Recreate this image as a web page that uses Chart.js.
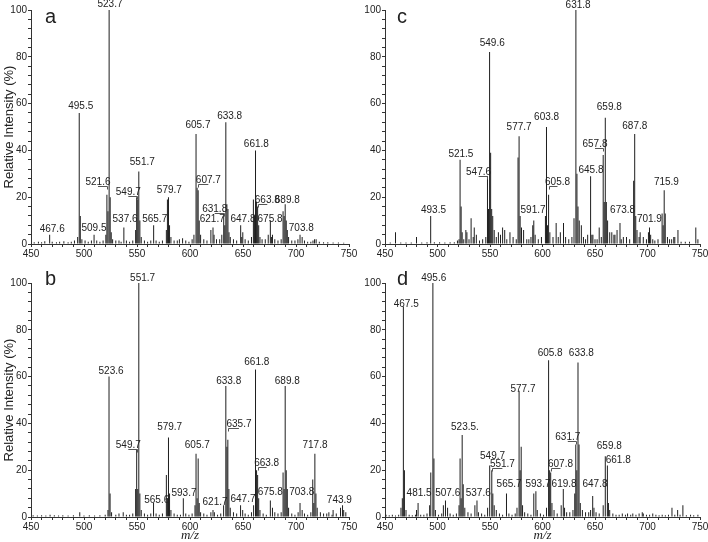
<!DOCTYPE html>
<html>
<head>
<meta charset="utf-8">
<script src="https://cdn.jsdelivr.net/npm/chart.js@4.4.1/dist/chart.umd.min.js"></script>
<style>
  body { margin: 0; background: #fff; width: 708px; height: 542px; overflow: hidden; position: relative; }
  canvas { position: absolute; }
</style>
</head>
<body>
<canvas id="chartA" width="360" height="271" style="left:0;top:0"></canvas>
<canvas id="chartC" width="354" height="271" style="left:354px;top:0"></canvas>
<canvas id="chartB" width="360" height="271" style="left:0;top:271px"></canvas>
<canvas id="chartD" width="354" height="271" style="left:354px;top:271px"></canvas>
<script>
// Peaks: [m/z, relative intensity %]
const peaksA = [[453,0.8],[457,1],[460,0.8],[463,1.2],[467.6,4],[470,1],[474,0.8],[477,1],[481,1.2],[485,0.8],[488,1],[491,1.5],[494,3],[495.5,56],[496.5,12],[498,2],[501,1.5],[504,1],[507,1.5],[509.5,4],[512,1.5],[515,1],[518,1.5],[520.6,4],[521.6,21],[522.6,14],[523.7,100],[524.7,20],[525.7,5],[527,2],[530,1.5],[533,1.5],[535,1],[537.6,7],[540,1.5],[543,1],[546,1.5],[548.7,6],[549.7,20],[550.7,19],[551.7,31],[552.7,10],[554,3],[557,1.5],[560,1],[563,1.5],[565.7,8],[568,1.5],[571,1],[574,1.5],[577.7,6],[578.7,19],[579.7,20],[580.7,8],[582,3],[585,1.5],[588,1.5],[590,2],[593,2.5],[596,1.5],[599,1],[602,2],[603.7,4],[605.7,47],[606.7,24],[607.7,23],[608.7,10],[610,4],[613,2],[616,1.5],[619.7,6],[621.7,7],[622.7,4],[625,2],[628,2],[630,4],[631.8,12],[632.8,8],[633.8,52],[634.8,17],[635.8,15],[636.8,5],[638,3],[641,2],[644,1.5],[647.8,8],[648.8,3],[649.8,5],[652,2],[655,1.5],[658,3],[659.8,19],[660.8,12],[661.8,40],[662.8,18],[663.8,16],[664.8,8],[666,3],[668,2],[671,2],[673.8,4],[675.8,10],[676.8,3],[677.8,4],[680,2],[683,1.5],[686,2],[687.8,14],[688.8,12],[689.8,17],[690.8,10],[691.8,6],[693,3],[696,1.5],[699,1.5],[701.8,2],[703.8,4],[705.8,3],[708,1.5],[711,1],[714,1],[716,1.5],[717.5,2],[719,2],[722,1],[726,0.8],[730,0.8],[735,0.6],[740,0.6],[745,0.5]];

const peaksB = [[452,0.8],[456,0.6],[460,0.8],[464,0.6],[468,1],[472,0.8],[476,0.6],[480,0.8],[485,0.6],[490,0.8],[496,2],[500,0.6],[505,0.8],[510,0.6],[515,0.8],[520,1],[522.6,3],[523.6,60],[524.6,10],[526,2],[530,1],[533,1.5],[537,2],[540,1],[543,1],[546,1.5],[548.7,12],[549.7,29],[550.7,12],[551.7,100],[552.7,10],[554,3],[557,1.5],[560,1],[563,1.5],[565.6,6],[568,1.5],[571,1],[574,1.5],[577.7,18],[578.7,8],[579.7,34],[580.7,10],[582,3],[585,1.5],[588,1],[591,1],[593.7,8],[596,1.5],[599,1],[602,1.5],[604.7,5],[605.7,27],[606.7,8],[607.7,25],[608.7,6],[610,2],[613,1.5],[616,1],[619.7,2],[621.7,3],[623,2],[626,1],[629,1.5],[631.7,5],[633.8,56],[634.8,30],[635.7,33],[636.7,12],[638,4],[641,2],[644,1.5],[647.7,5],[649.7,3],[652,1.5],[655,1],[658,2],[660,5],[661.8,63],[662.8,20],[663.8,18],[664.8,8],[666,3],[669,1.5],[672,1],[675.8,7],[677.8,4],[680,2],[683,1.5],[686,2],[687.8,19],[688.8,12],[689.8,56],[690.8,20],[691.8,12],[693,4],[696,1.5],[699,1],[702,2],[703.8,6],[705.8,3],[708,1.5],[711,1],[714,2],[715.8,16],[716.8,6],[717.8,27],[718.8,10],[720,4],[723,2],[726,1.5],[729,1.5],[731,2],[734,1],[735,3],[738,1.5],[742,4],[743.9,5],[745,3],[747,2]];

const peaksC = [[455,0.6],[460,5],[465,0.6],[470,0.6],[475,0.6],[480,3],[485,0.6],[490,0.8],[493.5,12],[497,0.8],[502,0.8],[507,0.6],[512,0.8],[516,0.8],[519,1.5],[520.5,2],[521.5,36],[522.5,16],[523.5,5],[525,2],[527,6],[528,5],[530,2],[532,11],[534,3],[535,7],[537,4],[540,1.5],[543,2],[546,3],[547.6,29],[548.6,15],[549.6,82],[550.6,39],[551.6,15],[552.6,12],[554,6],[556,3],[558,5],[560,4],[562,7],[564,6],[566,2],[569,5],[572,3],[575,2],[576.7,37],[577.7,46],[578.7,12],[580,7],[582,6],[585,2],[587,2],[589,3],[590.7,8],[591.7,10],[593,4],[596,2],[599,3],[602.8,12],[603.8,50],[604.8,8],[605.8,21],[607,5],[610,3],[613,9],[615,3],[617,5],[620,9],[622,3],[625,2],[628,3],[630,11],[631.8,100],[632.8,30],[633.8,16],[635,10],[637,8],[639,3],[641,2],[643,4],[645.8,29],[647,4],[648,4],[650,2],[652,2],[654,7],[656,3],[657.8,38],[658.8,18],[659.8,54],[660.8,18],[662,10],[664,5],[666,5],[668,4],[669,4],[671,6],[673.8,9],[675,2],[677,3],[680,3],[683,2],[686.8,27],[687.8,47],[688.8,12],[690,6],[692,3],[693,5],[696,3],[699,2],[700.9,5],[701.9,7],[703,4],[705,2],[707,1.5],[710,2],[713.9,13],[714.9,8],[715.9,23],[716.9,13],[719,3],[721,2],[723,2],[725,3],[726,3],[729,6],[732,1],[736,1],[740,1],[746,7],[748,2]];

const peaksD = [[451,1],[454,0.8],[457,1],[460,0.6],[463,1],[465.2,4],[466.5,8],[467.5,90],[468.5,20],[470,3],[473,1],[476,0.8],[479,1],[480,3],[481.5,6],[484,1],[487,1],[490,1.5],[492.5,5],[493.6,19],[495.6,100],[496.6,25],[498,3],[501,1],[504,1.5],[505.6,5],[507.6,7],[509.6,4],[512,1.5],[515,1],[518,1.5],[520.5,5],[521.5,25],[522.5,8],[523.5,35],[524.5,14],[526,4],[529,2],[532,1.5],[535.6,5],[537.6,7],[539,2],[542,1.5],[545,1],[547.7,4],[549.7,22],[551.7,20],[552.7,10],[554,5],[556,3],[559,1.5],[562,1],[565.7,10],[568,1.5],[571,1],[574,1.5],[575.7,4],[577.7,54],[578.7,20],[579.7,30],[581,5],[583,2],[586,1.5],[589,1],[591.7,10],[593.7,11],[595,3],[598,1.5],[601,1],[603.8,4],[605.8,67],[606.8,20],[607.8,19],[609,6],[611,3],[614,1.5],[617.8,5],[619.8,12],[621,4],[623,2],[626,2],[629,3],[630.7,10],[631.7,31],[632.7,20],[633.8,66],[634.8,31],[636,6],[638,3],[641,2],[644,2],[645.8,3],[647.8,9],[649,4],[651,2],[654,1.5],[657.8,5],[659.8,26],[661.8,22],[662.8,6],[664,3],[667,1.5],[670,1],[673,1],[676,1.5],[679,1],[681,1.5],[684,1],[686,1.5],[689,1],[692,1.5],[695,2],[696,1.5],[699,1],[702,1],[705,1.5],[708,1],[711,0.8],[714,1],[717,0.8],[720,1],[723.3,4],[726,1],[728.7,3],[731,1],[733.7,5],[737,0.8],[741,1],[744,0.8],[748,1]];

// Peak labels: [peak m/z, text centre m/z, text baseline %, text, leader line]
const labelsA = [[467.6,470,5.3,'467.6'],[495.5,496.9,57.5,'495.5'],[509.5,509.4,5.5,'509.5'],[521.6,513.2,25.2,'521.6',1],[523.7,524.5,101.3,'523.7'],[537.6,538.7,9.5,'537.6'],[549.7,541.8,21,'549.7',1],[551.7,555,33.8,'551.7'],[565.7,566.7,9.5,'565.7'],[579.7,580.5,21.8,'579.7'],[605.7,607.5,49.4,'605.7'],[607.7,617.3,26,'607.7',1],[621.7,621,9.5,'621.7'],[631.8,623.3,13.8,'631.8',1],[633.8,637.4,53.3,'633.8'],[647.8,650,9.5,'647.8'],[661.8,662.6,41.6,'661.8'],[663.8,672.9,17.7,'663.8',1],[675.8,675.5,9.5,'675.8'],[689.8,691.8,17.7,'689.8'],[703.8,705,5.5,'703.8']];
const labelsB = [[523.6,525.5,61,'523.6'],[549.7,541.8,29.4,'549.7',1],[551.7,555.3,101,'551.7'],[565.6,568.6,6.1,'565.6'],[579.7,580.8,37,'579.7'],[593.7,594.3,9,'593.7'],[605.7,606.9,29.4,'605.7'],[621.7,623.6,5.1,'621.7'],[633.8,636.5,57,'633.8'],[635.7,646.2,38.3,'635.7',1],[647.7,650,6.5,'647.7'],[661.8,663,65,'661.8'],[663.8,672.3,21.8,'663.8',1],[675.8,675.8,9.4,'675.8'],[689.8,691.8,57,'689.8'],[703.8,705.4,9.4,'703.8'],[717.8,717.9,29.4,'717.8'],[743.9,740.9,5.8,'743.9']];
const labelsC = [[493.5,496.2,13.1,'493.5'],[521.5,522.3,37.3,'521.5'],[547.6,539.1,29.5,'547.6',1],[549.6,552.1,84.7,'549.6'],[577.7,577.7,48.7,'577.7'],[591.7,591,13.1,'591.7'],[603.8,603.9,53,'603.8'],[605.8,614.3,25.2,'605.8',1],[631.8,633.9,101,'631.8'],[645.8,646.2,30.2,'645.8'],[657.8,650,41.6,'657.8',1],[659.8,663.6,57.3,'659.8'],[673.8,676.3,13.4,'673.8'],[687.8,687.9,49,'687.8'],[701.9,701.8,9.5,'701.9'],[715.9,718,25.2,'715.9']];
const labelsD = [[467.5,470.2,89.9,'467.5'],[481.5,482.5,9,'481.5'],[495.6,496.4,101,'495.6'],[507.6,509.7,9,'507.6'],[523.5,526.1,37.2,'523.5.'],[537.6,538.8,9,'537.6'],[549.7,552.4,25,'549.7'],[551.7,561.8,21.2,'551.7',1],[565.7,568.2,13,'565.7'],[577.7,581.4,53.6,'577.7'],[593.7,595.7,13,'593.7'],[605.8,607.3,68.8,'605.8'],[607.8,617.1,21.2,'607.8',1],[619.8,620.6,13,'619.8'],[631.7,624.1,32.9,'631.7',1],[633.8,637,68.8,'633.8'],[647.8,650,13,'647.8'],[659.8,663.6,29,'659.8'],[661.8,672.1,22.9,'661.8']];

const FONT = "'Liberation Sans Narrow', 'Liberation Sans', Arial, sans-serif";
const INK = '#222';

// Peak labels and panel letter
const peakLabels = {
  id: 'peakLabels',
  afterDatasetsDraw(chart, args, opts) {
    const { ctx, scales: { x, y } } = chart;
    ctx.save();
    ctx.fillStyle = INK;
    ctx.strokeStyle = '#555';
    ctx.lineWidth = 1;
    ctx.font = '10px ' + FONT;
    ctx.textAlign = 'center';
    ctx.textBaseline = 'alphabetic';
    opts.labels.forEach(([peak, at, h, text, lead]) => {
      const tx = x.getPixelForValue(at);
      const ty = y.getPixelForValue(h);
      ctx.fillText(text, tx, ty);
      if (lead) {
        const px = Math.round(x.getPixelForValue(peak)) + 0.5;
        const ly = Math.round(ty) + 1.5;
        ctx.beginPath();
        ctx.moveTo(tx, ly);
        ctx.lineTo(px, ly);
        ctx.lineTo(px, ly + 3);
        ctx.stroke();
      }
    });
    ctx.font = "20px 'Liberation Sans', Arial, sans-serif";
    ctx.textAlign = 'left';
    ctx.fillText(opts.letter, opts.lx, opts.ly);
    ctx.restore();
  }
};

function makeChart(id, peaks, labels, p) {
  return new Chart(document.getElementById(id), {
    type: 'bar',
    data: {
      datasets: [{
        data: peaks.map(([m, v]) => ({ x: m, y: v })),
        backgroundColor: '#1e1e1e',
        borderWidth: 0,
        inflateAmount: 0,
        barThickness: 1
      }]
    },
    options: {
      responsive: false,
      animation: false,
      devicePixelRatio: 1,
      layout: { padding: { left: 0, right: p.right, top: p.top, bottom: 0 } },
      plugins: {
        legend: { display: false },
        tooltip: { enabled: false },
        peakLabels: { labels: labels, letter: p.letter, lx: p.lx, ly: p.ly }
      },
      scales: {
        x: {
          type: 'linear',
          min: 450, max: 750,
          offset: false,
          grid: { offset: false, drawOnChartArea: false, tickLength: 3, color: '#333' },
          border: { color: '#333' },
          ticks: {
            stepSize: 10, autoSkip: false, maxRotation: 0, padding: 1,
            color: INK, font: { family: FONT, size: 10 },
            callback: v => (v % 50 === 0 ? v : '')
          },
          title: {
            display: p.xTitle, text: 'm/z', color: INK, padding: 0,
            font: { family: "'Liberation Serif', 'Times New Roman', serif", size: 13, style: 'italic', lineHeight: 1 }
          },
          afterFit: s => { s.height = p.xh; s.paddingLeft = 0; s.paddingRight = 0; }
        },
        y: {
          min: 0, max: 100,
          grid: { drawOnChartArea: false, tickLength: 3, color: '#333' },
          border: { color: '#333' },
          ticks: {
            stepSize: 4, autoSkip: false, padding: 1,
            color: INK, font: { family: FONT, size: 10 },
            callback: v => (v % 20 === 0 ? v : '')
          },
          title: {
            display: p.yTitle, text: 'Relative Intensity (%)', color: INK,
            padding: { top: 2, bottom: 0 },
            font: { family: "'Liberation Sans', Arial, sans-serif", size: 13 }
          },
          afterFit: s => { s.width = 31; s.paddingTop = 0; s.paddingBottom = 0; }
        }
      }
    },
    plugins: [peakLabels]
  });
}

makeChart('chartA', peaksA, labelsA, { right: 11, top: 10, xh: 27, xTitle: false, yTitle: true, letter: 'a', lx: 45, ly: 23 });
makeChart('chartB', peaksB, labelsB, { right: 11, top: 12, xh: 25, xTitle: true, yTitle: true, letter: 'b', lx: 45, ly: 14 });
makeChart('chartC', peaksC, labelsC, { right: 8, top: 10, xh: 27, xTitle: false, yTitle: false, letter: 'c', lx: 43, ly: 23 });
makeChart('chartD', peaksD, labelsD, { right: 8, top: 12, xh: 25, xTitle: true, yTitle: false, letter: 'd', lx: 43, ly: 14 });
</script>
</body>
</html>
